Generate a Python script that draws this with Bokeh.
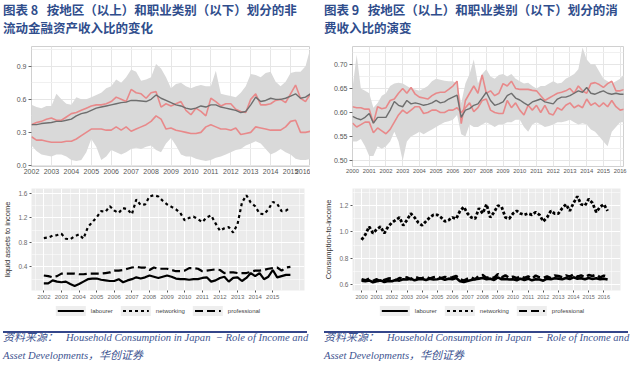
from bokeh.plotting import figure
from bokeh.models import Div, Range1d, FixedTicker
from bokeh.layouts import row, column
from bokeh.embed import file_html
from bokeh.resources import INLINE

# ---------------- data: figure 8 top (quarterly 2002.0 - 2016.0) ----------------
tl_x = [2002 + i / 4 for i in range(57)]
tl_mean = [.37, .37, .38, .385, .39, .40, .40, .41, .42, .45, .47, .48, .50, .52, .53, .54,
           .55, .56, .57, .575, .59, .59, .585, .58, .60, .64, .61, .59, .57, .55, .54, .52,
           .51, .52, .54, .53, .55, .55, .53, .52, .51, .50, .48, .49, .55, .62, .58, .59,
           .61, .60, .60, .61, .63, .65, .61, .62, .65]
tl_red_hi = [.37, .39, .40, .42, .43, .41, .41, .44, .47, .48, .50, .52, .54, .55, .55, .56,
             .58, .62, .60, .58, .69, .66, .65, .61, .66, .67, .53, .56, .54, .56, .58, .50,
             .46, .52, .49, .45, .61, .58, .54, .56, .56, .51, .49, .48, .60, .65, .55, .55,
             .56, .59, .60, .57, .65, .73, .61, .58, .65]
tl_red_lo = [.26, .23, .23, .22, .21, .21, .21, .22, .22, .24, .27, .30, .33, .33, .33, .32,
             .32, .35, .32, .35, .31, .33, .35, .37, .40, .45, .42, .33, .34, .32, .31, .30,
             .29, .29, .30, .35, .37, .35, .33, .33, .32, .34, .28, .29, .30, .35, .34, .33,
             .32, .32, .32, .35, .40, .41, .30, .30, .31]
tl_band_hi = [.55, .53, .52, .54, .54, .65, .60, .56, .55, .62, .60, .60, .62, .64, .66, .70,
              .72, .78, .75, .80, .87, .85, .77, .78, .80, .92, .88, .80, .70, .74, .75, .72,
              .70, .72, .73, .72, .72, .86, .65, .64, .63, .62, .66, .72, .83, .82, .80, .84,
              .85, .76, .72, .76, .84, .85, .85, .90, 1.07]
tl_band_lo = [.18, .13, .10, .09, .08, .10, .10, .08, .05, .04, .05, .12, .24, .17, .05, .08,
              .14, .12, .10, .12, .15, .16, .15, .17, .18, .14, .12, .20, .25, .18, .10, .08,
              .08, .06, .05, .04, .05, .07, .08, .10, .12, .14, .15, .18, .20, .22, .20, .15,
              .10, .12, .15, .12, .10, .06, .05, .05, .06]
tl_xticks = list(range(2002, 2017))
tl_xlabels = [str(y) for y in tl_xticks]
tl_yticks = [0.0, 0.3, 0.6, 0.9]
tl_ylabels = ["0.0", "0.3", "0.6", "0.9"]

# ---------------- data: figure 9 top (quarterly 2000.0 - 2016.25) ----------------
tr_x = [2000 + i / 4 for i in range(66)]
tr_mean = [.592, .588, .585, .590, .598, .578, .590, .590, .590, .605, .623, .615,
           .612, .625, .618, .620, .618, .615, .617, .620, .625, .620, .622, .628,
           .632, .636, .590, .605, .608, .615, .618, .630, .642, .625, .615, .618,
           .622, .635, .640, .630, .626, .620, .615, .622, .625, .628, .622, .620,
           .618, .628, .632, .632, .635, .640, .645, .642, .652, .640, .638, .642,
           .645, .640, .638, .640, .638, .638]
tr_red_hi = [.612, .610, .610, .607, .607, .578, .612, .608, .610, .625, .628, .640,
             .650, .640, .652, .638, .632, .630, .628, .635, .640, .642, .642, .648,
             .655, .665, .577, .625, .640, .655, .640, .678, .640, .645, .635, .640,
             .660, .655, .665, .650, .648, .648, .648, .646, .645, .635, .625, .630,
             .635, .640, .642, .645, .650, .640, .655, .645, .640, .660, .662, .658,
             .652, .660, .665, .645, .645, .648]
tr_red_lo = [.578, .570, .575, .580, .580, .558, .568, .562, .556, .565, .580, .595,
             .605, .598, .605, .612, .612, .598, .600, .605, .605, .600, .600, .605,
             .605, .610, .600, .610, .620, .602, .610, .625, .628, .605, .600, .598,
             .598, .625, .610, .620, .605, .595, .615, .605, .615, .600, .615, .598,
             .595, .610, .605, .615, .620, .610, .615, .610, .628, .615, .620, .612,
             .620, .612, .625, .612, .605, .607]
tr_band_hi = [.650, .720, .650, .645, .640, .610, .620, .635, .640, .655, .660, .662,
              .660, .655, .650, .648, .645, .650, .655, .665, .670, .668, .666, .665,
              .665, .660, .620, .660, .680, .710, .660, .680, .690, .675, .670, .678,
              .680, .675, .680, .670, .665, .660, .662, .655, .650, .655, .655, .660,
              .665, .660, .662, .670, .675, .680, .690, .735, .710, .700, .700, .685,
              .670, .665, .660, .665, .670, .680]
tr_band_lo = [.540, .540, .545, .530, .510, .510, .530, .525, .530, .540, .560, .540,
              .500, .540, .550, .555, .560, .555, .560, .565, .570, .575, .580, .582,
              .585, .595, .555, .550, .575, .570, .570, .575, .580, .575, .570, .575,
              .575, .580, .580, .585, .585, .570, .560, .575, .580, .575, .570, .572,
              .575, .580, .580, .582, .585, .580, .575, .578, .575, .565, .560, .550,
              .540, .530, .560, .570, .580, .580]
tr_xticks = list(range(2000, 2017))
tr_xlabels = [str(y) for y in tr_xticks]
tr_yticks = [0.50, 0.55, 0.60, 0.65, 0.70]
tr_ylabels = ["0.50", "0.55", "0.60", "0.65", "0.70"]

# ---------------- data: figure 8 bottom (quarterly 2002.0 - 2016.0) ----------------
bl_x = [2002 + i / 4 for i in range(57)]
bl_networking = [.87, .88, .91, .92, .94, .86, .85, .90, .93, .86, 1.05, 1.13,
                 1.21, 1.31, 1.30, 1.39, 1.32, 1.28, 1.36, 1.34, 1.26, 1.50, 1.41, 1.42,
                 1.55, 1.57, 1.55, 1.48, 1.42, 1.38, 1.34, 1.28, 1.16, 1.20, 1.22, 1.18,
                 1.13, 1.21, 1.24, 1.11, .99, 1.03, 1.05, .96, 1.10, 1.45, 1.57, 1.45,
                 1.39, 1.27, 1.26, 1.34, 1.46, 1.43, 1.31, 1.32, 1.37]
bl_professional = [.26, .25, .23, .25, .29, .29, .29, .29, .28, .28, .29, .29,
                   .29, .29, .30, .31, .34, .34, .35, .37, .39, .40, .39, .39,
                   .35, .39, .37, .37, .37, .35, .33, .33, .34, .38, .38, .37,
                   .33, .34, .35, .36, .35, .30, .31, .31, .30, .30, .30, .32,
                   .34, .34, .35, .37, .38, .39, .34, .39, .40]
bl_labourer = [.13, .13, .18, .16, .15, .16, .12, .09, .12, .16, .20, .21,
               .21, .19, .18, .17, .17, .20, .15, .18, .20, .23, .21, .23,
               .26, .24, .22, .24, .26, .24, .21, .20, .20, .19, .20, .20,
               .22, .23, .16, .18, .22, .24, .16, .22, .23, .17, .22, .30,
               .25, .30, .20, .24, .35, .23, .25, .27, .27]
bl_xticks = list(range(2002, 2016))
bl_xlabels = [str(y) for y in bl_xticks]
bl_yticks = [0.4, 0.8, 1.2, 1.6]
bl_ylabels = ["0.4", "0.8", "1.2", "1.6"]

# ---------------- data: figure 9 bottom (quarterly 2000.0 - 2016.25) ----------------
br_x = [2000 + i / 4 for i in range(66)]
br_networking = [.94, .98, 1.04, .99, 1.02, 1.04, .99, 1.04, 1.07, 1.09, 1.11, 1.05,
                 1.09, 1.14, 1.11, 1.07, 1.05, 1.08, 1.11, 1.13, 1.13, 1.11, 1.08, 1.09,
                 1.11, 1.10, 1.16, 1.19, 1.14, 1.11, 1.10, 1.18, 1.14, 1.21, 1.11, 1.15,
                 1.20, 1.19, 1.11, 1.10, 1.14, 1.16, 1.14, 1.13, 1.14, 1.13, 1.15, 1.13,
                 1.08, 1.11, 1.16, 1.14, 1.14, 1.18, 1.21, 1.16, 1.22, 1.27, 1.21, 1.20,
                 1.25, 1.22, 1.15, 1.19, 1.21, 1.16]
br_labourer = [.630, .625, .632, .618, .625, .632, .620, .628, .625, .635, .630, .640,
               .638, .645, .632, .640, .642, .635, .645, .638, .640, .648, .636, .645,
               .640, .650, .625, .620, .628, .635, .640, .645, .650, .640, .645, .635,
               .655, .640, .642, .638, .640, .632, .645, .635, .645, .632, .640, .638,
               .630, .645, .640, .648, .645, .640, .650, .642, .655, .645, .648, .640,
               .650, .642, .648, .640, .645, .638]
br_professional = [.640, .632, .645, .628, .640, .622, .635, .645, .648, .632, .650, .645,
                   .655, .640, .658, .650, .648, .660, .645, .655, .660, .648, .658, .650,
                   .655, .665, .640, .630, .645, .655, .640, .668, .672, .650, .662, .650,
                   .680, .655, .670, .650, .660, .648, .665, .650, .662, .645, .668, .655,
                   .650, .662, .648, .668, .665, .655, .670, .660, .678, .660, .670, .655,
                   .672, .665, .675, .655, .668, .660]
br_xticks = list(range(2000, 2017))
br_xlabels = [str(y) for y in br_xticks]
br_yticks = [0.6, 0.8, 1.0, 1.2]
br_ylabels = ["0.6", "0.8", "1.0", "1.2"]

legend_labels = ["labourer", "networking", "professional"]

title_left = "图表 8&nbsp;&nbsp;&nbsp;按地区（以上）和职业类别（以下）划分的非<br>流动金融资产收入比的变化"
title_right = "图表 9&nbsp;&nbsp;&nbsp;按地区（以上）和职业类别（以下）划分的消<br>费收入比的演变"
source_cn = "资料来源："
source_en1 = "Household Consumption in Japan&nbsp;&nbsp;− Role of Income and"
source_en2 = "Asset Developments"
source_cn2 = "，华创证券"

# ---------------- styling helpers ----------------
COL_W = 310
TITLE_C = "#2F4D8C"
RULE_C = "#34468A"
RED = "#E8898A"


def title_div(t):
    return Div(text=f'<div style="font-family:\'Noto Sans CJK SC\';font-weight:bold;font-size:12.5px;'
                    f'line-height:18px;color:{TITLE_C};padding:1px 0 0 3px;white-space:nowrap">{t}</div>',
               width=COL_W, height=39, margin=0)


def rule_div():
    return Div(text=f'<div style="margin:1px 0 0 3px;width:304px;border-top:2px solid {RULE_C}"></div>',
               width=COL_W, height=5, margin=0)


def source_div():
    cn = "font-family:'Noto Sans CJK SC';font-size:11px;font-style:italic"
    return Div(text=f'<div style="font-family:\'Liberation Serif\';font-style:italic;'
                    f'font-size:10.6px;line-height:16px;color:#3D5390;padding:2px 0 0 3px;white-space:nowrap">'
                    f'<span style="{cn}">{source_cn}</span>&nbsp;&nbsp;&nbsp;{source_en1}<br>'
                    f'{source_en2}<span style="{cn}">{source_cn2}</span></div>',
               width=COL_W, height=32, margin=0)


def legend_div(center):
    keys = [
        "background:#000",
        "background:repeating-linear-gradient(90deg,#000 0 3px,transparent 3px 6px)",
        "background:repeating-linear-gradient(90deg,#000 0 8px,transparent 8px 12px)",
    ]
    parts = []
    for lab, k in zip(legend_labels, keys):
        parts.append(
            f'<span style="display:inline-block;flex:none;width:30px;height:10px;background:#EEEEEE;position:relative">'
            f'<span style="position:absolute;left:2px;width:26px;top:3.5px;height:2.6px;{k}"></span></span>'
            f'<span style="flex:none;margin:0 8px 0 5px">{lab}</span>')
    return Div(text=f'<div style="position:absolute;left:{center}px;top:0;transform:translateX(-50%);'
                    f'display:flex;align-items:center;height:20px;white-space:nowrap;'
                    f'font-family:\'Liberation Sans\';font-size:6px;color:#444">{"".join(parts)}</div>',
               width=COL_W, height=20, margin=0)


def top_fig(x, band_lo, band_hi, red_a, red_b, mid, xr, yr, xt, xl, yt, yl, yminor, bl, fw, br, xfs):
    p = figure(frame_width=fw, frame_height=120, x_range=Range1d(*xr), y_range=Range1d(*yr),
               output_backend="svg", toolbar_location=None,
               min_border_left=bl, min_border_right=br, min_border_top=2, min_border_bottom=12,
               background_fill_color="white", outline_line_color="#D0D0D0")
    p.varea(x=x, y1=band_lo, y2=band_hi, fill_color="#D9D9D9")
    p.line(x, red_a, line_color=RED, line_width=1.6)
    p.line(x, red_b, line_color=RED, line_width=1.6)
    p.line(x, mid, line_color="#6E6E6E", line_width=1.4)
    xtk = FixedTicker(ticks=xt)
    ytk = FixedTicker(ticks=yt, minor_ticks=yminor)
    p.xaxis.ticker = xtk
    p.yaxis.ticker = ytk
    p.xgrid.ticker = xtk
    p.ygrid.ticker = ytk
    p.xaxis.major_label_overrides = {t: s for t, s in zip(xt, xl)}
    p.yaxis.major_label_overrides = {t: s for t, s in zip(yt, yl)}
    p.grid.grid_line_color = "#E6E6E6"
    p.ygrid.minor_grid_line_color = "#F0F0F0"
    p.axis.axis_line_color = None
    p.axis.major_tick_line_color = "#666666"
    p.xaxis.major_tick_out = 0
    p.xaxis.major_tick_in = 0
    p.yaxis.major_tick_out = 3
    p.yaxis.major_tick_in = 0
    p.axis.minor_tick_out = 0
    p.axis.minor_tick_in = 0
    p.axis.major_label_text_font = "Liberation Sans"
    p.yaxis.major_label_text_font_size = "7px"
    p.xaxis.major_label_text_font_size = xfs
    p.axis.major_label_text_color = "#555555"
    p.axis.major_label_standoff = 2
    return p


def bottom_fig(xr, yr, xt, xl, xminor, yt, yl, yminor, ylabel, bl, fw, xfs):
    p = figure(frame_width=fw, frame_height=102, x_range=Range1d(*xr), y_range=Range1d(*yr),
               output_backend="svg", toolbar_location=None,
               min_border_left=bl, min_border_right=13, min_border_top=10, min_border_bottom=10,
               background_fill_color="#EBEBEB", outline_line_color=None)
    xtk = FixedTicker(ticks=xt, minor_ticks=xminor)
    ytk = FixedTicker(ticks=yt, minor_ticks=yminor)
    p.xaxis.ticker = xtk
    p.yaxis.ticker = ytk
    p.xgrid.ticker = xtk
    p.ygrid.ticker = ytk
    p.xaxis.major_label_overrides = {t: s for t, s in zip(xt, xl)}
    p.yaxis.major_label_overrides = {t: s for t, s in zip(yt, yl)}
    p.grid.grid_line_color = "white"
    p.grid.grid_line_width = 1.1
    p.grid.minor_grid_line_color = "white"
    p.grid.minor_grid_line_width = 0.5
    p.axis.axis_line_color = None
    p.axis.major_tick_line_color = "#555555"
    p.axis.major_tick_out = 2
    p.axis.major_tick_in = 0
    p.axis.minor_tick_out = 0
    p.axis.minor_tick_in = 0
    p.axis.major_label_text_font = "Liberation Sans"
    p.yaxis.major_label_text_font_size = "6.5px"
    p.xaxis.major_label_text_font_size = xfs
    p.axis.major_label_text_color = "#6A6A6A"
    p.axis.major_label_standoff = 2
    p.yaxis.axis_label = ylabel
    p.yaxis.axis_label_text_font = "Liberation Sans"
    p.yaxis.axis_label_text_font_size = "7.5px"
    p.yaxis.axis_label_text_font_style = "normal"
    p.yaxis.axis_label_text_color = "#333333"
    p.yaxis.axis_label_standoff = 3
    return p


# ---------------- figure 8 ----------------
tl = top_fig(tl_x, tl_band_lo, tl_band_hi, tl_red_hi, tl_red_lo, tl_mean,
             (2002, 2016), (-0.01, 1.08), tl_xticks, tl_xlabels, tl_yticks, tl_ylabels,
             [0.15, 0.45, 0.75, 1.05], 25, 279, 6, "7px")

blf = bottom_fig((2001.3, 2016.8), (0.015, 1.68), bl_xticks, bl_xlabels,
                 [2001.5 + i for i in range(16)], bl_yticks, bl_ylabels, [0.2, 0.6, 1.0, 1.4],
                 "liquid assets to income", 24, 273, "6px")
blf.line(bl_x, bl_labourer, line_color="black", line_width=2.2)
blf.line(bl_x, bl_networking, line_color="black", line_width=2.2, line_dash="3 3")
blf.line(bl_x, bl_professional, line_color="black", line_width=2.2, line_dash="8 4")

# ---------------- figure 9 ----------------
tr = top_fig(tr_x, tr_band_lo, tr_band_hi, tr_red_hi, tr_red_lo, tr_mean,
             (2000, 2016.2), (0.488, 0.737), tr_xticks, tr_xlabels, tr_yticks, tr_ylabels,
             [0.525, 0.575, 0.625, 0.675, 0.725], 28, 271, 11, "5.8px")

brf = bottom_fig((1999.4, 2017.1), (0.555, 1.33), br_xticks, br_xlabels,
                 [1999.5 + i for i in range(18)], br_yticks, br_ylabels, [0.7, 0.9, 1.1, 1.3],
                 "Consumption-to-income", 29, 268, "5.5px")
brf.line(br_x, br_labourer, line_color="black", line_width=2.6)
brf.line(br_x, br_networking, line_color="black", line_width=2.8, line_dash="3 2")
brf.line(br_x, br_professional, line_color="black", line_width=2.6, line_dash="8 4")

left = column(title_div(title_left), rule_div(), tl, blf, legend_div(162), rule_div(), source_div(), spacing=0)
right = column(title_div(title_right), rule_div(), tr, brf, legend_div(165), rule_div(), source_div(), spacing=0)
page = row(left, right, spacing=4)

open("out.html", "w").write(file_html(page, INLINE))
